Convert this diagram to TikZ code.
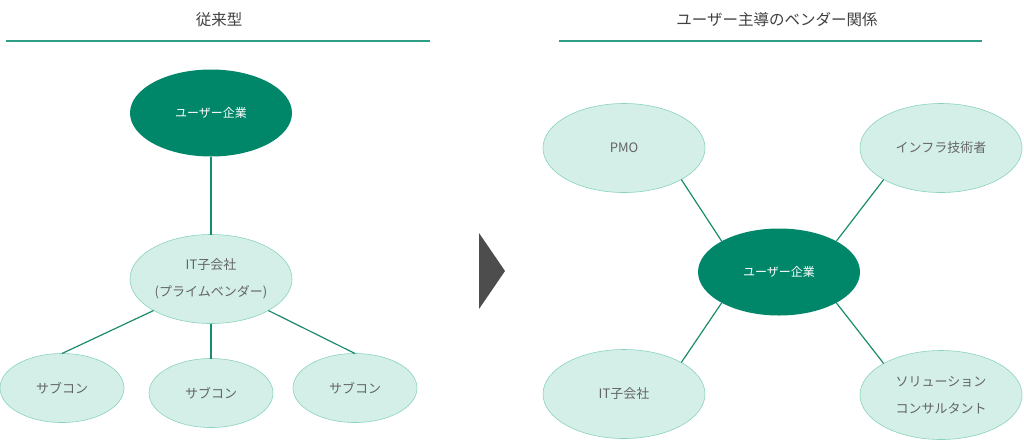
\documentclass[tikz,border=0pt]{standalone}
\usepackage{fontspec}
\setmainfont{Noto Sans CJK JP}
\usetikzlibrary{shapes.geometric}
\definecolor{cdark}{HTML}{00876A}
\definecolor{clight}{HTML}{D4EFE8}
\definecolor{cedge}{HTML}{8AD2BF}
\definecolor{cline}{HTML}{1A8C6E}
\definecolor{crule}{HTML}{2E9E85}
\definecolor{ctext}{HTML}{646464}
\definecolor{ctitle}{HTML}{404040}
\definecolor{cgrey}{HTML}{4D4D4D}
\tikzset{
  every picture/.style={line width=1.2pt},
  bubble/.style={ellipse, draw=cedge, line width=0.6pt, fill=clight, text=ctext, font=\fontsize{13}{27}\selectfont,
    align=center, inner sep=0pt, outer sep=0pt, minimum width=162pt, minimum height=89pt},
  small/.style={bubble, minimum width=124pt, minimum height=69pt},
  core/.style={ellipse, fill=cdark, text=white, font=\fontsize{12}{14}\selectfont, inner sep=0pt, outer sep=0pt,
    minimum width=162pt, minimum height=87pt},
  link/.style={draw=cline, line width=1.2pt},
  title/.style={text=ctitle, font=\fontsize{15.5}{18}\selectfont},
  rule/.style={draw=crule, line width=1.3pt},
}

\begin{document}
\begin{tikzpicture}[x=1pt, y=-1pt]
  \useasboundingbox (0,0) rectangle (1024,440);

  \node[title] (t1) at (219,20) {従来型};
  \node[title] (t2) at (777,20) {ユーザー主導のベンダー関係};
  \draw[rule] (6,41) -- (430,41);
  \draw[rule] (559,41) -- (982,41);

  % conventional model
  \node[core]   (user)  at (211,113) {ユーザー企業};
  \node[bubble] (itsub) at (211,279) {IT子会社\\(プライムベンダー)};
  \node[small]  (sub1)  at (62,388)  {サブコン};
  \node[small]  (sub2)  at (211,393) {サブコン};
  \node[small]  (sub3)  at (355,388) {サブコン};
  \draw[link] (user) -- (itsub);
  \draw[link] (itsub.south west) -- (sub1.north);
  \draw[link] (itsub.south) -- (sub2.north);
  \draw[link] (itsub.south east) -- (sub3.north);

  % arrow between the two
  \fill[cgrey] (479,233) -- (505,271) -- (479,309) -- cycle;

  % user-led model
  \node[core]   (hub)   at (779,272) {ユーザー企業};
  \node[bubble] (pmo)   at (624,148) {PMO};
  \node[bubble] (infra) at (941,148) {インフラ技術者};
  \node[bubble] (itco)  at (624,394) {IT子会社};
  \node[bubble] (sol)   at (941,395) {ソリューション\\コンサルタント};
  \draw[link] (pmo.south east) -- (hub.north west);
  \draw[link] (infra.south west) -- (hub.north east);
  \draw[link] (itco.north east) -- (hub.south west);
  \draw[link] (sol.north west) -- (hub.south east);
\end{tikzpicture}
\end{document}
